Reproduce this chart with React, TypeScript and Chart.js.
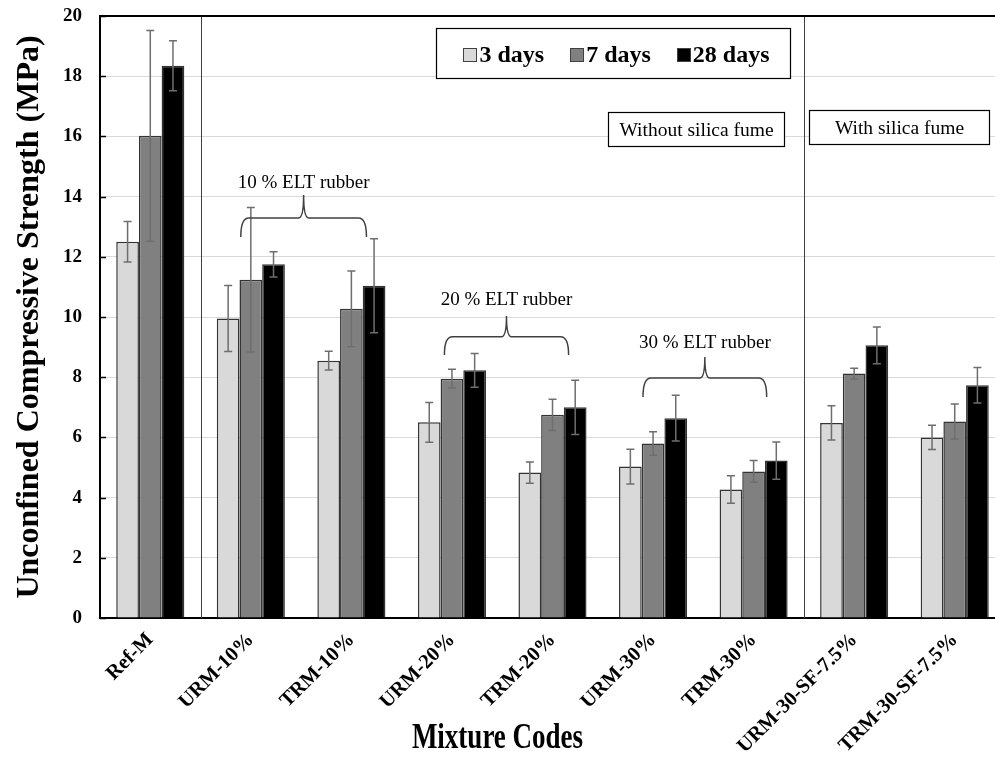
import React, { useEffect, useRef } from 'react';
import { Chart, registerables } from 'chart.js';

Chart.register(...registerables);

const categories = ['Ref-M', 'URM-10%', 'TRM-10%', 'URM-20%', 'TRM-20%', 'URM-30%', 'TRM-30%', 'URM-30-SF-7.5%', 'TRM-30-SF-7.5%'];
const seriesNames = ['3 days', '7 days', '28 days'];
const days3 = [12.5, 9.95, 8.55, 6.5, 4.83, 5.03, 4.27, 6.48, 6.0];
const days3Err = [0.67, 1.1, 0.31, 0.66, 0.35, 0.58, 0.46, 0.57, 0.4];
const days7 = [16.02, 11.24, 10.27, 7.95, 6.75, 5.8, 4.87, 8.12, 6.53];
const days7Err = [3.5, 2.4, 1.26, 0.31, 0.52, 0.39, 0.36, 0.18, 0.58];
const days28 = [18.35, 11.75, 11.04, 8.23, 7.0, 6.64, 5.23, 9.06, 7.73];
const days28Err = [0.83, 0.42, 1.56, 0.56, 0.9, 0.76, 0.62, 0.61, 0.59];
const yMin = 0;
const yMax = 20;
const yStep = 2;

const groupNotes = ['10 % ELT rubber', '20 % ELT rubber', '30 % ELT rubber'];
const sectionNotes = ['Without silica fume', 'With silica fume'];
const yTitle = 'Unconfined Compressive Strength (MPa)';
const xTitle = 'Mixture Codes';

const FONT = '"Liberation Serif", "Times New Roman", Times, serif';
const colors = ['#d9d9d9', '#808080', '#000000'];
const errors = [days3Err, days7Err, days28Err];

// brace geometry in axis units (category index, MPa)
const braces = [
  { x0: 0.9, x1: 2.15, yH: 13.29, yS: 14.05, yE: 12.66, yT: 14.45 },
  { x0: 2.925, x1: 4.16, yH: 9.34, yS: 10.03, yE: 8.74, yT: 10.56 },
  { x0: 4.9, x1: 6.13, yH: 7.97, yS: 8.67, yE: 7.34, yT: 9.14 },
];
const boxes = [
  { x0: 4.547, x1: 6.3, y0: 16.81, y1: 15.68 },
  { x0: 6.547, x1: 8.34, y0: 16.88, y1: 15.75 },
];
const separators = [0.5, 6.5];
const legendBox = { x0: 2.846, x1: 6.358, y0: 19.6, y1: 17.94 };

const overlay = {
  id: 'overlay',
  beforeDatasetsDraw(chart: any) {
    const { ctx, chartArea, scales } = chart;
    const xs = scales.x;
    ctx.save();
    ctx.strokeStyle = '#404040';
    ctx.lineWidth = 1;
    separators.forEach((s) => {
      const x = Math.round(xs.getPixelForValue(s)) + 0.5;
      ctx.beginPath();
      ctx.moveTo(x, chartArea.top);
      ctx.lineTo(x, chartArea.bottom);
      ctx.stroke();
    });
    ctx.restore();
  },
  afterDatasetsDraw(chart: any) {
    const { ctx, scales } = chart;
    const ys = scales.y;
    ctx.save();
    ctx.strokeStyle = '#6e6e6e';
    ctx.lineWidth = 1.5;
    chart.data.datasets.forEach((ds: any, i: number) => {
      const meta = chart.getDatasetMeta(i);
      meta.data.forEach((el: any, j: number) => {
        const v = ds.data[j];
        const e = errors[i][j];
        const x = el.x;
        const yt = ys.getPixelForValue(v + e);
        const yb = ys.getPixelForValue(v - e);
        ctx.beginPath();
        ctx.moveTo(x, yt);
        ctx.lineTo(x, yb);
        ctx.moveTo(x - 4, yt);
        ctx.lineTo(x + 4, yt);
        ctx.moveTo(x - 4, yb);
        ctx.lineTo(x + 4, yb);
        ctx.stroke();
      });
    });
    ctx.restore();
  },
  afterDraw(chart: any) {
    const { ctx, chartArea, scales } = chart;
    const xs = scales.x;
    const ys = scales.y;
    ctx.save();

    // top frame line
    ctx.strokeStyle = '#000';
    ctx.lineWidth = 2;
    ctx.beginPath();
    ctx.moveTo(chartArea.left - 1, chartArea.top);
    ctx.lineTo(chartArea.right, chartArea.top);
    ctx.stroke();

    // inner tick marks on the value axis
    ctx.lineWidth = 1.5;
    ys.ticks.forEach((t: any) => {
      const y = Math.round(ys.getPixelForValue(t.value)) + 0.5;
      ctx.beginPath();
      ctx.moveTo(chartArea.left, y);
      ctx.lineTo(chartArea.left + 6, y);
      ctx.stroke();
    });

    // braces with labels
    braces.forEach((b, i) => {
      const xl = xs.getPixelForValue(b.x0);
      const xr = xs.getPixelForValue(b.x1);
      const xc = (xl + xr) / 2;
      const yh = ys.getPixelForValue(b.yH);
      const yS = ys.getPixelForValue(b.yS);
      const yE = ys.getPixelForValue(b.yE);
      ctx.strokeStyle = '#404040';
      ctx.lineWidth = 1.5;
      ctx.beginPath();
      ctx.moveTo(xl, yE);
      ctx.quadraticCurveTo(xl, yh, xl + 8, yh);
      ctx.lineTo(xc - 5, yh);
      ctx.quadraticCurveTo(xc, yh, xc, yS);
      ctx.quadraticCurveTo(xc, yh, xc + 5, yh);
      ctx.lineTo(xr - 8, yh);
      ctx.quadraticCurveTo(xr, yh, xr, yE);
      ctx.stroke();
      ctx.fillStyle = '#000';
      ctx.font = `19px ${FONT}`;
      ctx.textAlign = 'center';
      ctx.textBaseline = 'middle';
      ctx.fillText(groupNotes[i], xc, ys.getPixelForValue(b.yT));
    });

    // section boxes
    boxes.forEach((b, i) => {
      const x0 = Math.round(xs.getPixelForValue(b.x0)) + 0.5;
      const x1 = Math.round(xs.getPixelForValue(b.x1)) + 0.5;
      const y0 = Math.round(ys.getPixelForValue(b.y0)) + 0.5;
      const y1 = Math.round(ys.getPixelForValue(b.y1)) + 0.5;
      ctx.fillStyle = '#fff';
      ctx.fillRect(x0, y0, x1 - x0, y1 - y0);
      ctx.strokeStyle = '#000';
      ctx.lineWidth = 1.2;
      ctx.strokeRect(x0, y0, x1 - x0, y1 - y0);
      ctx.fillStyle = '#000';
      ctx.font = `19.5px ${FONT}`;
      ctx.textAlign = 'center';
      ctx.textBaseline = 'middle';
      ctx.fillText(sectionNotes[i], (x0 + x1) / 2, (y0 + y1) / 2 + 1);
    });

    // legend
    {
      const x0 = Math.round(xs.getPixelForValue(legendBox.x0)) + 0.5;
      const x1 = Math.round(xs.getPixelForValue(legendBox.x1)) + 0.5;
      const y0 = Math.round(ys.getPixelForValue(legendBox.y0)) + 0.5;
      const y1 = Math.round(ys.getPixelForValue(legendBox.y1)) + 0.5;
      ctx.fillStyle = '#fff';
      ctx.fillRect(x0, y0, x1 - x0, y1 - y0);
      ctx.strokeStyle = '#000';
      ctx.lineWidth = 1.2;
      ctx.strokeRect(x0, y0, x1 - x0, y1 - y0);
      ctx.font = `bold 24px ${FONT}`;
      const sw = 13;
      const gapSw = 3;
      const gapItem = 26;
      const widths = seriesNames.map((n) => sw + gapSw + ctx.measureText(n).width);
      const total = widths.reduce((a, b) => a + b, 0) + gapItem * (seriesNames.length - 1);
      let x = (x0 + x1) / 2 - total / 2 + 3;
      const yc = (y0 + y1) / 2 + 1;
      seriesNames.forEach((n, i) => {
        ctx.fillStyle = colors[i];
        ctx.fillRect(Math.round(x) + 0.5, Math.round(yc - sw / 2) + 0.5, sw, sw);
        ctx.strokeStyle = '#404040';
        ctx.lineWidth = 1;
        ctx.strokeRect(Math.round(x) + 0.5, Math.round(yc - sw / 2) + 0.5, sw, sw);
        ctx.fillStyle = '#000';
        ctx.textAlign = 'left';
        ctx.textBaseline = 'middle';
        ctx.fillText(n, x + sw + gapSw, yc + 1);
        x += widths[i] + gapItem;
      });
    }

    // x-axis title (condensed serif)
    ctx.fillStyle = '#000';
    ctx.font = `bold 36px ${FONT}`;
    ctx.textAlign = 'center';
    ctx.textBaseline = 'middle';
    ctx.translate(497.5, 739);
    ctx.scale(0.75, 1);
    ctx.fillText(xTitle, 0, 0);
    ctx.restore();
  },
};

export default function App() {
  const ref = useRef<HTMLCanvasElement | null>(null);
  useEffect(() => {
    document.body.style.margin = '0';
    const canvas = ref.current;
    if (!canvas) return;
    const chart = new Chart(canvas, {
      type: 'bar',
      data: {
        labels: categories,
        datasets: [days3, days7, days28].map((d, i) => ({
          label: seriesNames[i],
          data: d,
          backgroundColor: colors[i],
          borderColor: '#333333',
          borderWidth: 1.5,
          categoryPercentage: 0.677,
          barPercentage: 1.0,
        })),
      },
      options: {
        animation: false,
        responsive: false,
        devicePixelRatio: 1,
        layout: { padding: { top: 16, right: 5, left: 0, bottom: 0 } },
        plugins: {
          legend: { display: false },
          tooltip: { enabled: false },
          title: { display: false },
        },
        scales: {
          x: {
            grid: { display: false, drawTicks: false },
            border: { display: true, color: '#000', width: 2 },
            ticks: {
              autoSkip: false,
              maxRotation: 45,
              minRotation: 45,
              padding: 10,
              color: '#000',
              font: { family: FONT, size: 20.5, weight: 'bold' },
            },
            afterFit: (s: any) => {
              s.height = 145;
              s.paddingLeft = 0;
              s.paddingRight = 0;
            },
          },
          y: {
            min: yMin,
            max: yMax,
            ticks: {
              stepSize: yStep,
              padding: 18,
              color: '#000',
              font: { family: FONT, size: 19, weight: 'bold' },
            },
            grid: { color: '#d9d9d9', lineWidth: 1, drawTicks: false },
            border: { display: true, color: '#000', width: 2 },
            title: {
              display: true,
              text: yTitle,
              color: '#000',
              font: { family: FONT, size: 32, weight: 'bold' },
              padding: { top: 11, bottom: 0 },
            },
            afterFit: (s: any) => {
              s.width = 100;
              s.paddingTop = 0;
              s.paddingBottom = 0;
            },
          },
        },
      },
      plugins: [overlay],
    } as any);
    return () => chart.destroy();
  }, []);
  return (
    <div style={{ width: 995, height: 763, overflow: 'hidden', position: 'relative', background: '#fff' }}>
      <canvas ref={ref} width={1010} height={763} style={{ display: 'block', width: 1010, height: 763 }} />
    </div>
  );
}
